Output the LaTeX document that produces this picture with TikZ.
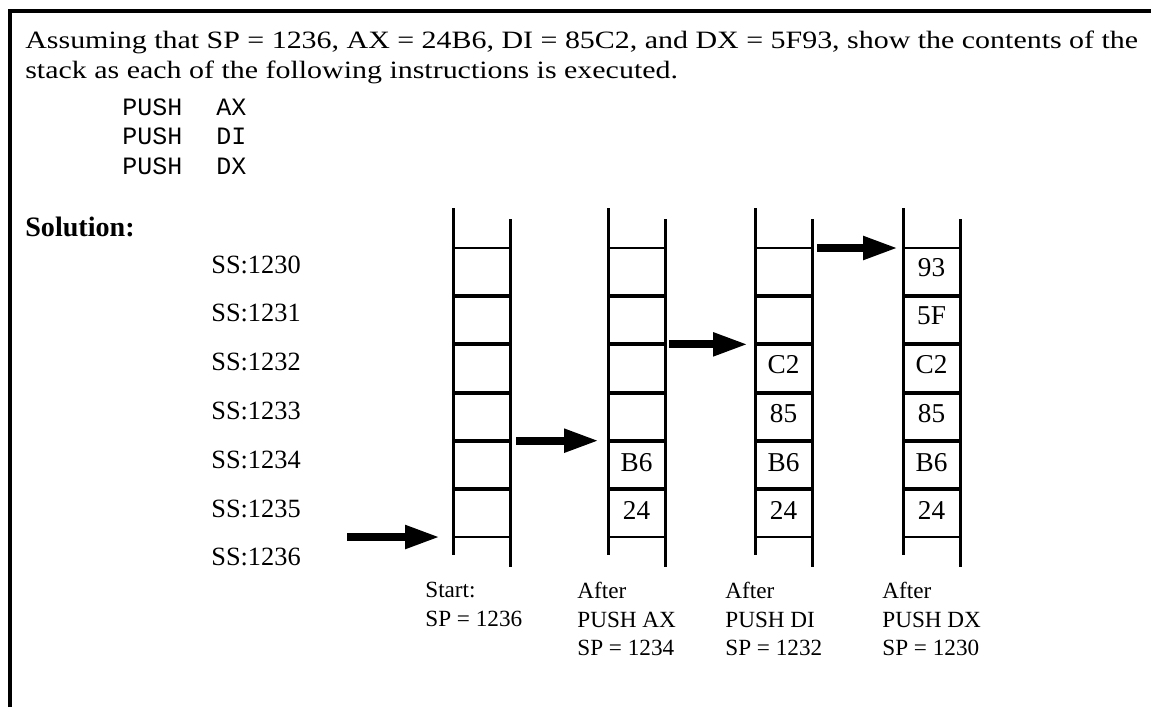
\documentclass[tikz,border=0pt]{standalone}
\usepackage{fontspec}
\setmainfont{Liberation Serif}
\setmonofont{Liberation Mono}
\newfontfamily\widefont[FakeStretch=1.2]{Liberation Serif}
\usetikzlibrary{arrows.meta,calc}

\begin{document}
\begin{tikzpicture}[x=0.02cm, y=-0.02cm,
    frame/.style={line width=2pt},
    rail/.style={line width=1.7pt},
    rung/.style={line width=2.3pt},
    end rung/.style={line width=1.4pt},
    push/.style={line width=4.5pt, -{Triangle[length=0.7cm, width=0.44cm]}},
    question/.style={anchor=base west, inner sep=0pt, font=\fontsize{14.2}{16}\widefont},
    instr/.style={anchor=base west, inner sep=0pt, font=\fontsize{14.2}{16}\ttfamily},
    addr/.style={anchor=base west, inner sep=0pt, font=\fontsize{15}{17}\selectfont},
    cell/.style={anchor=base, inner sep=0pt, font=\fontsize{15.5}{17}\selectfont},
    caption/.style={anchor=north west, inner sep=0pt, align=left, font=\fontsize{13.2}{16.2}\selectfont}]
    \useasboundingbox (0,0) rectangle (1151,707);

    % Frame (left and top only)
    \draw[frame] (10,707) -- (10,11) -- (1151,11);

    % Question text
    \node[question] (q1) at (25,48) {Assuming that SP = 1236, AX = 24B6, DI = 85C2, and DX = 5F93, show the contents of the};
    \node[question] (q2) at (25,78) {stack as each of the following instructions is executed.};
    \foreach \r/\reg in {0/AX, 1/DI, 2/DX} {
        \node[instr] (op\r) at (122,115+29.5*\r) {PUSH};
        \node[instr] (reg\r) at (216,115+29.5*\r) {\reg};
    }
    \node[anchor=base west, inner sep=0pt, font=\fontsize{16}{18}\bfseries] (sol) at (25,236) {Solution:};

    % Addresses
    \foreach \i in {0,...,6}
        \node[addr] (ss\i) at (211,273+48.8*\i) {SS:123\i};

    % Stacks
    \foreach \s/\x in {a/453, b/608, c/755, d/903} {
        \draw[rail] (\x,208) -- (\x,555);
        \draw[rail] (\x+57,219) -- (\x+57,567);
        \foreach \i in {0,...,6} {
            \coordinate (\s-l\i) at (\x,248+48.17*\i);
            \coordinate (\s-r\i) at (\x+57,248+48.17*\i);
        }
        \foreach \i in {1,...,5}
            \draw[rung] (\s-l\i) -- (\s-r\i);
        \draw[end rung] (\s-l0) -- (\s-r0);
        \draw[end rung] (\s-l6) -- (\s-r6);
    }

    % Stack contents
    \foreach \s/\i/\val in {b/4/B6, b/5/24,
                            c/2/C2, c/3/85, c/4/B6, c/5/24,
                            d/0/93, d/1/5F, d/2/C2, d/3/85, d/4/B6, d/5/24}
        \node[cell] (\s\i) at ($(\s-l\i)!.5!(\s-r\i)+(0,28+0.6*\i)$) {\val};

    % Stack pointer arrows
    \coordinate (start) at (347,537);
    \draw[push, shorten >=0.26cm] (start) -- (a-l6);
    \draw[push, shorten <=0.12cm, shorten >=0.18cm] (a-r4) -- (b-l4);
    \draw[push, shorten <=0.08cm, shorten >=0.14cm] (b-r2) -- (c-l2);
    \draw[push, shorten <=0.1cm, shorten >=0.1cm] (c-r0) -- (d-l0);

    % Captions
    \node[caption] (capa) at (425,582) {Start:\\SP = 1236};
    \node[caption] (capb) at (577,582) {After\\PUSH AX\\SP = 1234};
    \node[caption] (capc) at (725,582) {After\\PUSH DI\\SP = 1232};
    \node[caption] (capd) at (882,582) {After\\PUSH DX\\SP = 1230};
\end{tikzpicture}
\end{document}
